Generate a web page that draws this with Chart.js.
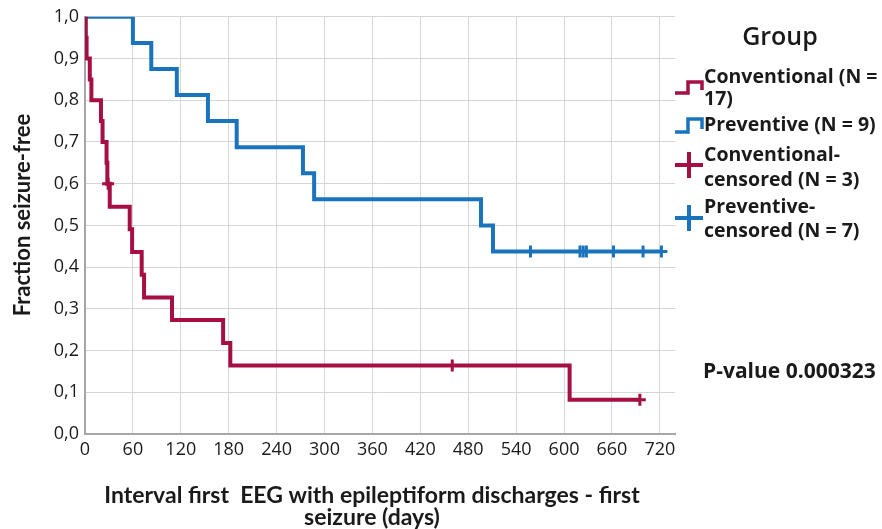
<!DOCTYPE html>
<html>
<head>
<meta charset="utf-8">
<script src="https://cdn.jsdelivr.net/npm/chart.js@4.4.1/dist/chart.umd.min.js"></script>
<style>
  html, body { margin: 0; padding: 0; background: #fff; }
  #wrap { width: 882px; height: 529px; position: relative; }
</style>
</head>
<body>
<div id="wrap"><canvas id="kmChart"></canvas></div>
<script>
// Kaplan-Meier steps (days, fraction seizure-free)
const convDays = [0, 1, 2, 6, 8, 20, 22, 27, 28, 31, 56, 59, 71, 74, 109, 173, 182, 607, 695];
const convSurv = [1.0, 0.95, 0.90, 0.85, 0.80, 0.75, 0.70, 0.65, 0.60, 0.545, 0.491, 0.436, 0.382, 0.327, 0.273, 0.218, 0.164, 0.082, 0.082];
const prevDays = [0, 60, 83, 115, 154, 190, 273, 287, 496, 511, 722];
const prevSurv = [1.0, 0.9375, 0.875, 0.8125, 0.75, 0.6875, 0.625, 0.5625, 0.5, 0.4375, 0.4375];

// censored observations
const convCensDays = [29, 460, 695];
const convCensSurv = [0.60, 0.164, 0.082];
const prevCensDays = [558, 620, 624, 628, 662, 699, 722];
const prevCensSurv = [0.4375, 0.4375, 0.4375, 0.4375, 0.4375, 0.4375, 0.4375];

const xTickValues = [0, 60, 120, 180, 240, 300, 360, 420, 480, 540, 600, 660, 720];
const yTickValues = [0, 0.1, 0.2, 0.3, 0.4, 0.5, 0.6, 0.7, 0.8, 0.9, 1.0];
const yTickLabels = ["0,0", "0,1", "0,2", "0,3", "0,4", "0,5", "0,6", "0,7", "0,8", "0,9", "1,0"];

const xTitle = ["Interval first  EEG with epileptiform discharges - first", "seizure (days)"];
const yTitle = "Fraction seizure-free";
const legendTitle = "Group";
const legendItems = [
    { kind: "step", color: "#a50f43", lines: ["Conventional (N =", "17)"] },
    { kind: "step", color: "#1a74bd", lines: ["Preventive (N = 9)"] },
    { kind: "cross", color: "#a50f43", lines: ["Conventional-", "censored (N = 3)"] },
    { kind: "cross", color: "#1a74bd", lines: ["Preventive-", "censored (N = 7)"] }
];
const pValueText = "P-value 0.000323";

const RED = "#a50f43";
const BLUE = "#1a74bd";
const FONT = "'Open Sans', sans-serif";
const TITLE_FONT = "Lato, 'Open Sans', sans-serif";
const INK = "#1a1a1a";

function toPoints(xs, ys) {
    return xs.map((x, i) => ({ x: x, y: ys[i] }));
}

// axis titles, legend and p-value
const sideText = {
    id: "sideText",
    afterDraw(chart) {
        const ctx = chart.ctx;
        ctx.save();
        ctx.fillStyle = INK;
        ctx.textBaseline = "middle";

        // axis titles
        ctx.textAlign = "center";
        ctx.font = "bold 23px " + TITLE_FONT;
        ctx.fillText(xTitle[0], 372, 496);
        ctx.fillText(xTitle[1], 372, 518);
        ctx.save();
        ctx.translate(23, 215);
        ctx.rotate(-Math.PI / 2);
        ctx.font = "bold 22px " + TITLE_FONT;
        ctx.fillText(yTitle, 0, 0);
        ctx.restore();

        // legend
        ctx.font = "600 25px " + FONT;
        ctx.fillText(legendTitle, 780, 38);

        ctx.textAlign = "left";
        ctx.font = "bold 19.5px " + FONT;
        const textY = [[77, 99], [125], [155, 180], [207, 231]];
        legendItems.forEach((item, i) => {
            ctx.strokeStyle = item.color;
            ctx.lineWidth = 3.5;
            ctx.lineCap = "butt";
            ctx.beginPath();
            if (item.kind === "step") {
                const base = i === 0 ? 93 : 132;
                const top = i === 0 ? 82 : 119;
                ctx.moveTo(675, base);
                ctx.lineTo(688, base);
                ctx.lineTo(688, top);
                ctx.lineTo(702, top);
                ctx.lineTo(702, base - 3);
            } else {
                const cy = i === 2 ? 165 : 218;
                ctx.lineWidth = 4;
                ctx.moveTo(675, cy);
                ctx.lineTo(703, cy);
                ctx.moveTo(689, cy - 13);
                ctx.lineTo(689, cy + 13);
            }
            ctx.stroke();
            item.lines.forEach((t, j) => {
                ctx.fillText(t, 704, textY[i][j]);
            });
        });

        ctx.font = "bold 21px " + FONT;
        ctx.fillText(pValueText, 703, 372);
        ctx.restore();
    }
};

const ctx = document.getElementById("kmChart").getContext("2d");
new Chart(ctx, {
    type: "scatter",
    data: {
        datasets: [
            {
                label: "Conventional",
                data: toPoints(convDays, convSurv),
                showLine: true,
                stepped: "before",
                borderColor: RED,
                borderWidth: 4,
                pointRadius: 0,
                order: 2
            },
            {
                label: "Preventive",
                data: toPoints(prevDays, prevSurv),
                showLine: true,
                stepped: "before",
                borderColor: BLUE,
                borderWidth: 4,
                pointRadius: 0,
                order: 2
            },
            {
                label: "Conventional-censored",
                data: toPoints(convCensDays, convCensSurv),
                pointStyle: "cross",
                pointRadius: 6,
                borderColor: RED,
                borderWidth: 3,
                order: 1
            },
            {
                label: "Preventive-censored",
                data: toPoints(prevCensDays, prevCensSurv),
                pointStyle: "cross",
                pointRadius: 6,
                borderColor: BLUE,
                borderWidth: 3,
                order: 1
            }
        ]
    },
    options: {
        responsive: true,
        maintainAspectRatio: false,
        animation: false,
        layout: { padding: { top: 16, right: 207, left: 0, bottom: 0 } },
        plugins: {
            legend: { display: false },
            tooltip: { enabled: false }
        },
        scales: {
            x: {
                type: "linear",
                min: 0,
                max: 739,
                afterBuildTicks: scale => {
                    scale.ticks = xTickValues.map(v => ({ value: v }));
                },
                afterFit: scale => { scale.height = 95; },
                ticks: {
                    padding: 5,
                    color: INK,
                    font: { size: 18, family: FONT }
                },
                grid: { color: "#d6d6d6", lineWidth: 1, drawTicks: false },
                border: { color: "#a6a6a6", width: 2 }
            },
            y: {
                min: 0,
                max: 1,
                afterBuildTicks: scale => {
                    scale.ticks = yTickValues.map(v => ({ value: v }));
                },
                afterFit: scale => { scale.width = 85; },
                ticks: {
                    padding: 6,
                    color: INK,
                    font: { size: 18, family: FONT },
                    callback: (value) => {
                        const i = yTickValues.findIndex(v => Math.abs(v - value) < 1e-6);
                        return i >= 0 ? yTickLabels[i] : "";
                    }
                },
                grid: { color: "#d6d6d6", lineWidth: 1, drawTicks: false },
                border: { color: "#a6a6a6", width: 2 }
            }
        }
    },
    plugins: [sideText]
});
</script>
</body>
</html>
